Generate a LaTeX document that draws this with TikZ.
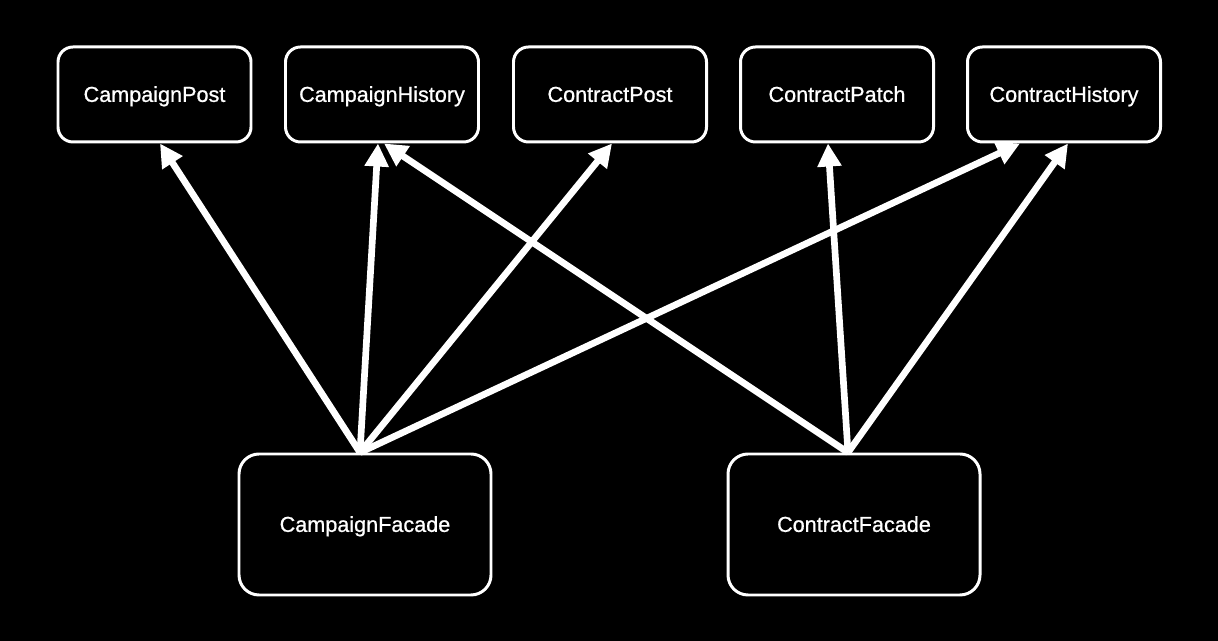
\documentclass[tikz,border=0pt]{standalone}
\usepackage{fontspec}
\setmainfont{Liberation Sans}
\newfontfamily\boxfont[FakeBold=0.8]{Liberation Sans}
\usetikzlibrary{arrows.meta}
\begin{document}
\begin{tikzpicture}[
        box/.style={draw=white, line width=1.7pt, rounded corners=0.3cm, fill=black, text=white,
            font=\boxfont\fontsize{12.3}{14}\selectfont, text height=1.05em, text depth=0.21em,
            minimum width=3.86cm, minimum height=1.9cm, inner sep=0pt},
        facade/.style={box, rounded corners=0.4cm, minimum width=5.04cm, minimum height=2.82cm},
        uses/.style={draw=white, line width=3.8pt, -{Triangle[length=0.46cm,width=0.46cm]}}
    ]
        \fill[black] (0,0) rectangle (24.36,12.82);
        % top row
        \node[box] (campaignPost) at (3.09,10.93) {CampaignPost};
        \node[box] (campaignHistory) at (7.64,10.93) {CampaignHistory};
        \node[box] (contractPost) at (12.2,10.93) {ContractPost};
        \node[box] (contractPatch) at (16.74,10.93) {ContractPatch};
        \node[box] (contractHistory) at (21.28,10.93) {ContractHistory};
        % facades
        \node[facade] (campaignFacade) at (7.3,2.33) {CampaignFacade};
        \node[facade] (contractFacade) at (17.08,2.33) {ContractFacade};
        \coordinate (campaignTop) at ([xshift=-0.1cm]campaignFacade.north);
        \coordinate (contractTop) at ([xshift=-0.12cm]contractFacade.north);
        \draw[uses] (campaignTop) -- ([xshift=0.11cm]campaignPost.south);
        \draw[uses] (campaignTop) -- ([xshift=-0.08cm]campaignHistory.south);
        \draw[uses] (campaignTop) -- ([xshift=0.04cm]contractPost.south);
        \draw[uses] (campaignTop) -- ([xshift=-0.88cm]contractHistory.south);
        \draw[uses] (contractTop) -- ([xshift=0.04cm]campaignHistory.south);
        \draw[uses] (contractTop) -- ([xshift=-0.18cm]contractPatch.south);
        \draw[uses] (contractTop) -- ([xshift=0.08cm]contractHistory.south);
\end{tikzpicture}
\end{document}
